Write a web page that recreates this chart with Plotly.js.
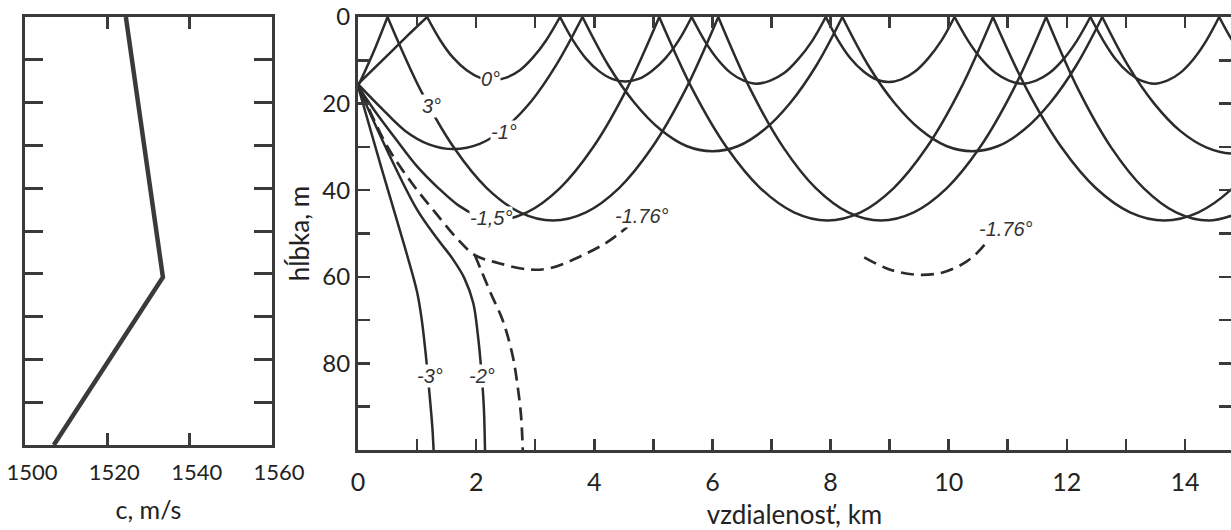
<!DOCTYPE html>
<html>
<head>
<meta charset="utf-8">
<script src="https://cdn.plot.ly/plotly-3.0.1.min.js"></script>
<style>html,body{margin:0;padding:0;background:#fff;}#chart{width:1231px;height:530px;}</style>
</head>
<body>
<div id="chart"></div>
<script>
// ---- sound speed profile (left panel) ----
const speedC = [1524.5, 1533.5, 1507];
const speedDepth = [0, 60.8, 100];

// ---- ray paths (right panel): distance in km, depth in m ----
const ray0X = [0,0.49,0.83,1.17,null,
  1.17,1.39,1.61,1.84,2.06,2.28,2.51,2.74,2.96,3.19,3.42,null,
  3.42,3.64,3.86,4.08,4.30,4.52,4.75,4.97,5.20,5.43,5.65,null,
  5.65,5.87,6.09,6.31,6.53,6.75,6.98,7.22,7.45,7.69,7.92,null,
  7.92,8.13,8.34,8.56,8.77,8.98,9.20,9.43,9.65,9.88,10.10,null,
  10.10,10.33,10.56,10.79,11.02,11.25,11.48,11.71,11.94,12.17,12.40,null,
  12.40,12.62,12.83,13.05,13.26,13.48,13.70,13.92,14.14,14.36,14.58,null,
  14.58,14.80,15.02];
const ray0Z = [15.5,9,4.4,0,null,
  0,5.3,9.4,12.3,14.0,14.6,14.0,12.3,9.4,5.3,0,null,
  0,5.4,9.6,12.5,14.3,14.9,14.3,12.5,9.6,5.4,0,null,
  0,5.5,9.8,12.9,14.7,15.4,14.7,12.9,9.8,5.5,0,null,
  0,5.4,9.6,12.6,14.4,15.0,14.4,12.6,9.6,5.4,0,null,
  0,5.5,9.8,12.9,14.7,15.4,14.7,12.9,9.8,5.5,0,null,
  0,5.5,9.8,12.9,14.7,15.4,14.7,12.9,9.8,5.5,0,null,
  0,5.4,9.6];

const rayM1X = [0,0.4,0.8,1.2,1.62,2.06,2.49,2.93,3.36,3.8,null,
  3.8,4.24,4.68,5.12,5.56,6.0,6.44,6.88,7.32,7.76,8.2,null,
  8.2,8.64,9.08,9.52,9.96,10.4,10.84,11.28,11.72,12.16,12.6,null,
  12.6,13.04,13.48,13.92,14.36,14.8,15.24];
const rayM1Z = [15.5,21.1,26.3,29.4,30.5,29.3,25.6,19.5,11,0,null,
  0,11.2,19.8,26,29.8,31,29.8,26,19.8,11.2,0,null,
  0,11.2,19.8,26,29.8,31,29.8,26,19.8,11.2,0,null,
  0,11.3,20,26.3,30.1,31.5,30.1];

const rayM15X = [0,0.3,0.63,1.0,1.36,1.7,2.0,2.3,2.86,3.42,3.98,4.54,5.1,null,
  5.1,5.67,6.24,6.81,7.38,7.95,8.51,9.07,9.63,10.19,10.75,null,
  10.75,11.33,11.91,12.49,13.07,13.65,14.23,14.81,15.39];
const rayM15Z = [16,22,28,34.5,39.5,43.5,45.8,47,45.1,39.5,30.1,16.9,0,null,
  0,16.9,30.1,39.5,45.1,47,45.1,39.5,30.1,16.9,0,null,
  0,16.9,30.1,39.5,45.1,47,45.1,39.5,30.1];

const rayP3X = [0,0.25,0.5,null,
  0.5,1.06,1.62,2.18,2.74,3.3,3.86,4.42,4.98,5.54,6.1,null,
  6.1,6.65,7.2,7.75,8.3,8.85,9.41,9.97,10.53,11.09,11.65,null,
  11.65,12.2,12.75,13.3,13.85,14.4,14.95];
const rayP3Z = [16,8.5,0,null,
  0,16.9,30.1,39.5,45.1,47,45.1,39.5,30.1,16.9,0,null,
  0,16.9,30.1,39.5,45.1,47,45.1,39.5,30.1,16.9,0,null,
  0,16.9,30.1,39.5,45.1,47,45.1];

const rayM2X = [0,0.5,1.0,1.33,1.6,1.8,1.95,2.03,2.09,2.13,2.15];
const rayM2Z = [16,31,44.5,51,55.8,60.3,66,73.5,82,90,100];

const rayM3X = [0,0.4,0.8,1.0,1.08,1.14,1.19,1.23,1.26,1.28];
const rayM3Z = [16,35,53.5,63.5,70,77,84,90,95,100];

const rayCritX = [0.05,0.5,0.92,1.3,1.7,1.98,2.37,2.88,3.25,3.76,4.22,4.56];
const rayCritZ = [17,30,38.5,45,51.5,55,56.8,58.3,58,55.3,52,48.5];
const rayCritDownX = [1.98,2.1,2.27,2.42,2.52,2.63,2.7,2.76,2.79];
const rayCritDownZ = [55,59,64.5,69,73,79,85,92,100];
const rayCrit2X = [8.57,9.0,9.45,9.9,10.3,10.55,10.68];
const rayCrit2Z = [55.5,58.3,59.5,59,56.5,53.5,51];

// ---- ray labels ----
const labelText = ['0°','3°','-1°','-1,5°','-1.76°','-1.76°','-3°','-2°'];
const labelX = [2.24, 1.24, 2.47, 2.26, 4.8, 10.97, 1.22, 2.1];
const labelZ = [14.4, 20.5, 26.5, 46.5, 46, 49, 83, 83];

// ---- axis ticks ----
const leftXTicks = [1500, 1520, 1540, 1560];
const depthTicks = [0,10,20,30,40,50,60,70,80,90,100];
const depthTickText = ['0','','20','','40','','60','','80','',''];
const distTicks = [0,1,2,3,4,5,6,7,8,9,10,11,12,13,14];
const distTickText = ['0','','2','','4','','6','','8','','10','','12','','14'];

const INK = '#2b2b2b';
const solid = {color: INK, width: 2.5, shape: 'spline', smoothing: 1};
const dashed = {color: INK, width: 2.7, shape: 'spline', smoothing: 1, dash: '13px,7px'};

function ray(x, z, line) {
  return {x: x, y: z, xaxis: 'x2', yaxis: 'y2', type: 'scatter', mode: 'lines',
          line: line, connectgaps: false, hoverinfo: 'skip', showlegend: false};
}

const traces = [
  {x: speedC, y: speedDepth, xaxis: 'x', yaxis: 'y', type: 'scatter', mode: 'lines',
   line: {color: '#3a3a3a', width: 4.5}, showlegend: false},
  ray(ray0X, ray0Z, solid),
  ray(rayM1X, rayM1Z, solid),
  ray(rayM15X, rayM15Z, solid),
  ray(rayP3X, rayP3Z, solid),
  ray(rayM2X, rayM2Z, solid),
  ray(rayM3X, rayM3Z, solid),
  ray(rayCritX, rayCritZ, dashed),
  ray(rayCritDownX, rayCritDownZ, dashed),
  ray(rayCrit2X, rayCrit2Z, dashed)
];

const annotations = labelText.map((t, i) => ({
  text: t, x: labelX[i], y: labelZ[i], xref: 'x2', yref: 'y2', showarrow: false,
  font: {family: 'Liberation Sans', size: 20, style: 'italic', color: '#333'},
  bgcolor: 'rgba(255,255,255,1)', borderpad: 0
}));

const FRAME = '#3a3a3a';

const layout = {
  width: 1231, height: 530,
  margin: {l: 0, r: 0, t: 17, b: 80},
  paper_bgcolor: '#fff', plot_bgcolor: '#fff',
  showlegend: false,
  xaxis: {
    domain: [25/1231, 272/1231], anchor: 'y', range: [1500, 1560],
    tickvals: leftXTicks, ticks: 'inside', ticklen: 12, tickwidth: 3, tickcolor: FRAME,
    showline: true, linewidth: 3, linecolor: FRAME, mirror: 'ticks',
    showgrid: false, zeroline: false, ticklabeloverflow: 'allow', ticklabelstandoff: 6,
    ticklabelshift: 7,
    tickfont: {family: 'Lato', size: 22, color: '#222'},
    title: {text: 'c, m/s', font: {family: 'Lato', size: 25, color: '#222'}, standoff: 18}
  },
  yaxis: {
    domain: [5/433, 1], anchor: 'x', range: [100, 0],
    tickvals: depthTicks, ticks: 'inside', ticklen: 18, tickwidth: 3, tickcolor: FRAME,
    showticklabels: false, showline: true, linewidth: 3, linecolor: FRAME, mirror: 'ticks',
    showgrid: false, zeroline: false
  },
  xaxis2: {
    domain: [358/1231, 1], anchor: 'y2', range: [0, 14.78],
    tickvals: distTicks, ticktext: distTickText, ticks: 'inside', ticklen: 11, tickwidth: 2.5, tickcolor: FRAME,
    showline: true, linewidth: 3, linecolor: FRAME, mirror: 'ticks',
    showgrid: false, zeroline: false, ticklabelstandoff: 8,
    tickfont: {family: 'Lato', size: 25, color: '#222'},
    title: {text: 'vzdialenosť, km', font: {family: 'Lato', size: 26, color: '#222'}, standoff: 13}
  },
  yaxis2: {
    domain: [0, 1], anchor: 'x2', range: [100, 0],
    tickvals: depthTicks, ticktext: depthTickText, ticks: 'inside', ticklen: 12, tickwidth: 2.5, tickcolor: FRAME,
    showline: true, linewidth: 3, linecolor: FRAME, mirror: 'ticks',
    showgrid: false, zeroline: false, tickfont: {family: 'Lato', size: 24, color: '#222'},
    title: {text: 'hĺbka, m', font: {family: 'Lato', size: 26, color: '#222'}, standoff: 6}
  },
  annotations: annotations
};

Plotly.newPlot('chart', traces, layout, {displayModeBar: false, staticPlot: true});
</script>
</body>
</html>
